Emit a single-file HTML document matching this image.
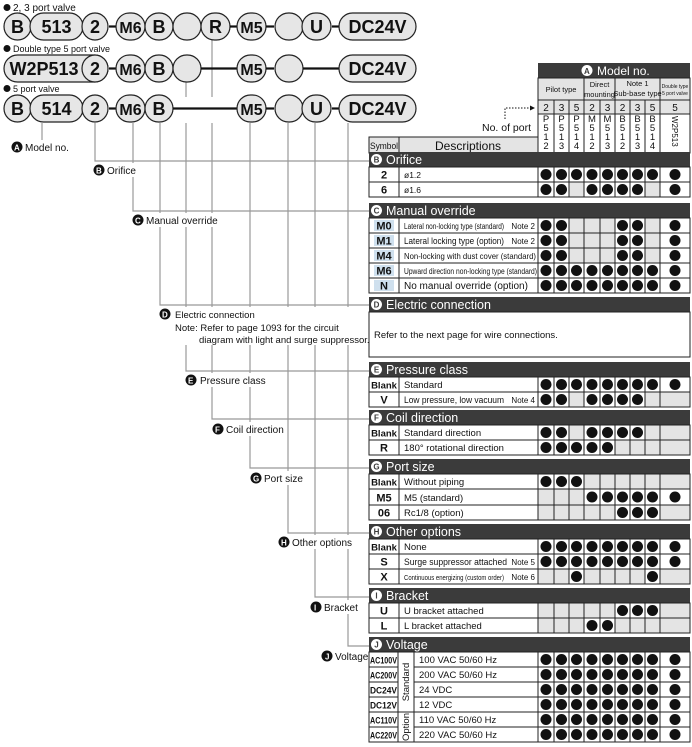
<!DOCTYPE html>
<html><head><meta charset="utf-8"><style>
html,body{margin:0;padding:0;background:#fff;}
svg{display:block;font-family:"Liberation Sans",Arial,sans-serif;}
</style></head><body>
<svg id="s" width="692" height="747" viewBox="0 0 692 747" xmlns="http://www.w3.org/2000/svg">
<g id="conn" stroke="#999" stroke-width="1.2" fill="none">
<path d="M42 123V140"/>
<path d="M95 123V161H369"/>
<path d="M133 123V211H369"/>
<path d="M160 123V305H369"/>
<path d="M186 123V371H369"/>
<path d="M212 123V419H369"/>
<path d="M250 123V468H369"/>
<path d="M288 123V533H369"/>
<path d="M315 123V597H369"/>
<path d="M348 123V646H369"/>
<path d="M212 37V97M186 82V97"/>
</g>
<g font-size="10" fill="#111">
<rect x="10" y="140" width="58" height="14" fill="#fff"/>
<circle cx="17" cy="147" r="5.5" fill="#111"/><text x="14" y="150.5" font-size="8" fill="#fff" font-weight="bold">A</text>
<text x="25" y="151">Model no.</text>
<rect x="92" y="163" width="45" height="14" fill="#fff"/>
<circle cx="99" cy="170" r="5.5" fill="#111"/><text x="96" y="173.5" font-size="8" fill="#fff" font-weight="bold">B</text>
<text x="107" y="174">Orifice</text>
<rect x="131" y="213" width="84" height="14" fill="#fff"/>
<circle cx="138" cy="220" r="5.5" fill="#111"/><text x="135" y="223.5" font-size="8" fill="#fff" font-weight="bold">C</text>
<text x="146" y="224">Manual override</text>
<rect x="158" y="307" width="206" height="38" fill="#fff"/>
<circle cx="165" cy="314" r="5.5" fill="#111"/><text x="162" y="317.5" font-size="8" fill="#fff" font-weight="bold">D</text>
<text x="175" y="318" font-size="9.5">Electric connection</text>
<text x="175" y="331" font-size="9.5">Note: Refer to page 1093 for the circuit</text>
<text x="199" y="343" font-size="9.5">diagram with light and surge suppressor.</text>
<rect x="185" y="373" width="80" height="14" fill="#fff"/>
<circle cx="191" cy="380" r="5.5" fill="#111"/><text x="188" y="383.5" font-size="8" fill="#fff" font-weight="bold">E</text>
<text x="200" y="384">Pressure class</text>
<rect x="211" y="422" width="75" height="14" fill="#fff"/>
<circle cx="218" cy="429" r="5.5" fill="#111"/><text x="215" y="432.5" font-size="8" fill="#fff" font-weight="bold">F</text>
<text x="226" y="433">Coil direction</text>
<rect x="249" y="471" width="52" height="14" fill="#fff"/>
<circle cx="256" cy="478" r="5.5" fill="#111"/><text x="253" y="481.5" font-size="8" fill="#fff" font-weight="bold">G</text>
<text x="264" y="482">Port size</text>
<rect x="277" y="535" width="72" height="14" fill="#fff"/>
<circle cx="284" cy="542" r="5.5" fill="#111"/><text x="281" y="545.5" font-size="8" fill="#fff" font-weight="bold">H</text>
<text x="292" y="546">Other options</text>
<rect x="309" y="600" width="50" height="14" fill="#fff"/>
<circle cx="316" cy="607" r="5.5" fill="#111"/><text x="314" y="610.5" font-size="8" fill="#fff" font-weight="bold">I</text>
<text x="324" y="611">Bracket</text>
<rect x="320" y="649" width="48" height="14" fill="#fff"/>
<circle cx="327" cy="656" r="5.5" fill="#111"/><text x="325" y="659.5" font-size="8" fill="#fff" font-weight="bold">J</text>
<text x="335" y="660">Voltage</text>
</g>
<g id="topg"></g>
<g id="tbl"></g>
<g fill="#111" font-size="10.5">
<text x="482" y="131">No. of port</text>
<path d="M505 119V108H530" stroke="#111" stroke-width="1" stroke-dasharray="1.5 1.5" fill="none"/>
<path d="M530 105.5L535 108L530 110.5Z"/>
</g>
</svg>
<script>
(function(){
var NS="http://www.w3.org/2000/svg";
function el(p,t,a,txt){var e=document.createElementNS(NS,t);for(var k in a)e.setAttribute(k,a[k]);if(txt!==undefined)e.textContent=txt;p.appendChild(e);return e;}
var tp=document.getElementById('topg');
[["2, 3 port valve",11,10],["Double type 5 port valve",52,9],["5 port valve",92,9]].forEach(function(h){
 el(tp,'circle',{cx:7,cy:h[1]-3.5,r:3.5,fill:'#111'});
 el(tp,'text',{x:13,y:h[1],'font-size':h[2],fill:'#111'},h[0]);
});
function box(y,x1,x2,t,fs){
 var h=27;el(tp,'rect',{x:x1,y:y,width:x2-x1,height:h,rx:13.5,ry:13.5,fill:'#e6e6e6',stroke:'#222','stroke-width':1.2});
 if(t)el(tp,'text',{x:(x1+x2)/2,y:y+20,'text-anchor':'middle','font-size':fs||18,'font-weight':'bold',fill:'#111'},t);
}
function dash(y,x1,x2){el(tp,'line',{x1:x1,y1:y+13.5,x2:x2,y2:y+13.5,stroke:'#111','stroke-width':2.2});}
var y=13;
box(y,4,31,'B');box(y,30,83,'513');box(y,82,108,'2');dash(y,109,116);box(y,116,145,'M6',16);box(y,145,173,'B');box(y,173,201,'');box(y,201,230,'R');dash(y,230,237);box(y,237,266,'M5',16);dash(y,266,274);box(y,275,303,'');box(y,302,331,'U');dash(y,332,339);box(y,339,416,'DC24V');
y=55;
box(y,4,108,'');el(tp,'text',{x:44,y:y+20,'text-anchor':'middle','font-size':18,'font-weight':'bold',fill:'#111'},'W2P513');box(y,82,108,'2');dash(y,109,116);box(y,116,145,'M6',16);box(y,145,173,'B');box(y,173,201,'');dash(y,201,237);box(y,237,266,'M5',16);dash(y,266,274);box(y,275,303,'');dash(y,303,339);box(y,339,416,'DC24V');
y=95;
box(y,4,31,'B');box(y,30,83,'514');box(y,82,108,'2');dash(y,109,116);box(y,116,145,'M6',16);box(y,145,173,'B');dash(y,173,237);box(y,237,266,'M5',16);dash(y,266,274);box(y,275,303,'');box(y,302,331,'U');dash(y,332,339);box(y,339,416,'DC24V');

var T=document.getElementById('tbl');
var X=[538,554,569,584,600,615,630,645,660,690];
var L=369,R=690,G='#e4e4e4',D='#3b3b3b';
el(T,'rect',{x:538,y:63,width:152,height:15,fill:D});
el(T,'circle',{cx:587,cy:70.5,r:5.5,fill:'#fff'});
el(T,'text',{x:584,y:74,'font-size':8,fill:D,'font-weight':'bold'},'A');
el(T,'text',{x:597,y:75,'font-size':12,fill:'#fff'},'Model no.');
el(T,'rect',{x:538,y:78,width:152,height:22,fill:G,stroke:'#222','stroke-width':1});
[[538,584],[584,615],[615,660],[660,690]].forEach(function(g){el(T,'line',{x1:g[0],y1:78,x2:g[0],y2:100,stroke:'#222'});});
el(T,'text',{x:561,y:92,'font-size':7.5,'text-anchor':'middle',fill:'#111'},'Pilot type');
el(T,'text',{x:599.5,y:87,'font-size':7.5,'text-anchor':'middle',fill:'#111'},'Direct');
el(T,'text',{x:599.5,y:97,'font-size':7.5,'text-anchor':'middle',fill:'#111'},'mounting');
el(T,'text',{x:637.5,y:86,'font-size':7.5,'text-anchor':'middle',fill:'#111'},'Note 1');
el(T,'text',{x:637.5,y:96,'font-size':7.5,'text-anchor':'middle',fill:'#111'},'Sub-base type');
el(T,'text',{x:675,y:88,'font-size':5,'text-anchor':'middle',fill:'#111'},'Double type');
el(T,'text',{x:675,y:95,'font-size':5,'text-anchor':'middle',fill:'#111'},'5 port valve');
el(T,'rect',{x:538,y:100,width:152,height:14,fill:G,stroke:'#222'});
el(T,'rect',{x:538,y:114,width:152,height:39,fill:'#fff',stroke:'#222'});
var ports=['2','3','5','2','3','2','3','5','5'];
var mods=['P512','P513','P514','M512','M513','B512','B513','B514'];
for(var i=0;i<9;i++){
 if(i>0)el(T,'line',{x1:X[i],y1:100,x2:X[i],y2:153,stroke:'#222'});
 var cx=(X[i]+X[i+1])/2;
 el(T,'text',{x:cx,y:111,'font-size':10,'text-anchor':'middle',fill:'#111'},ports[i]);
 if(i<8){for(var j=0;j<4;j++)el(T,'text',{x:cx,y:122+j*9,'font-size':9.5,'text-anchor':'middle',fill:'#111'},mods[i][j]);}
 else{el(T,'text',{x:0,y:0,'font-size':8,fill:'#111',transform:'translate('+(cx-3)+',116) rotate(90)'},'W2P513');}
}
el(T,'rect',{x:369,y:137,width:30,height:16,fill:G,stroke:'#222'});
el(T,'rect',{x:399,y:137,width:139,height:16,fill:G,stroke:'#222'});
el(T,'text',{x:384,y:149,'font-size':9,'text-anchor':'middle',fill:'#111','textLength':28,'lengthAdjust':'spacingAndGlyphs'},'Symbol');
el(T,'text',{x:468,y:150,'font-size':12,'text-anchor':'middle',fill:'#111'},'Descriptions');

function bar(y,letter,title){
 el(T,'rect',{x:L,y:y,width:R-L,height:15,fill:D});
 el(T,'circle',{cx:376.5,cy:y+7.5,r:5.5,fill:'#fff'});
 el(T,'text',{x:376.5,y:y+10.5,'font-size':8,'text-anchor':'middle',fill:D,'font-weight':'bold'},letter);
 el(T,'text',{x:386,y:y+12,'font-size':12.5,fill:'#fff'},title);
}
function row(y,h,sym,desc,pat,o){
 o=o||{};
 var sx=o.sx||399;
 el(T,'rect',{x:L,y:y,width:sx-L,height:h,fill:'#fff',stroke:'#222'});
 el(T,'rect',{x:o.dx||399,y:y,width:538-(o.dx||399),height:h,fill:'#fff',stroke:'#222'});
 var ss=o.ssz||11;
 var st={x:(L+sx)/2,y:y+h-3.5,'font-size':ss,'font-weight':'bold','text-anchor':'middle',fill:'#111'};
 if(o.hl){el(T,'rect',{x:L+5,y:y+2,width:sx-L-10,height:h-4,fill:'#cfe0ee'});}
 if(o.sw){st.textLength=o.sw;st.lengthAdjust='spacingAndGlyphs';}
 el(T,'text',st,sym);
 var dt={x:(o.dx||399)+5,y:y+h-4,'font-size':o.dfs||9.5,fill:'#111'};
 if(o.dw){dt.textLength=o.dw;dt.lengthAdjust='spacingAndGlyphs';}
 el(T,'text',dt,desc);
 if(o.note)el(T,'text',{x:535,y:y+h-4,'font-size':8,'text-anchor':'end',fill:'#111'},o.note);
 for(var i=0;i<9;i++){
  var on=pat[i]=='1';
  el(T,'rect',{x:X[i],y:y,width:X[i+1]-X[i],height:h,fill:on?'#fff':G,stroke:'#222','stroke-width':1});
  if(on)el(T,'circle',{cx:(X[i]+X[i+1])/2,cy:y+h/2,r:5.5,fill:'#111'});
 }
}
var A='111111111';
bar(152,'B','Orifice');
row(167,15,'2','ø1.2',A,{dfs:8.5});
row(182,15,'6','ø1.6','110111101',{dfs:8.5});
bar(203,'C','Manual override');
row(218,15,'M0','Lateral non-locking type (standard)','110001101',{hl:1,dfs:8,dw:100,note:'Note 2'});
row(233,15,'M1','Lateral locking type (option)','110001101',{hl:1,dfs:9,dw:100,note:'Note 2'});
row(248,15,'M4','Non-locking with dust cover (standard)','110001101',{hl:1,dfs:8.5,dw:132});
row(263,15,'M6','Upward direction non-locking type (standard)',A,{hl:1,dfs:8,dw:133});
row(278,15,'N','No manual override (option)',A,{hl:1,dfs:10});
bar(297,'D','Electric connection');
el(T,'rect',{x:L,y:312,width:R-L,height:45,fill:'#fff',stroke:'#222'});
el(T,'text',{x:374,y:338,'font-size':9.5,fill:'#111'},'Refer to the next page for wire connections.');
bar(362,'E','Pressure class');
row(377,15,'Blank','Standard',A,{ssz:9.5});
row(392,15,'V','Low pressure, low vacuum','110111100',{dfs:9,dw:100,note:'Note 4'});
bar(410,'F','Coil direction');
row(425,15,'Blank','Standard direction','110111100',{ssz:9.5});
row(440,15,'R','180° rotational direction','111110000');
bar(459,'G','Port size');
row(474,15,'Blank','Without piping','111000000',{ssz:9.5});
row(489,16,'M5','M5 (standard)','000111111');
row(505,15,'06','Rc1/8 (option)','000001110');
bar(524,'H','Other options');
row(539,15,'Blank','None',A,{ssz:9.5});
row(554,15,'S','Surge suppressor attached',A,{dfs:9,dw:103,note:'Note 5'});
row(569,15,'X','Continuous energizing (custom order)','001000010',{dfs:7,dw:100,note:'Note 6'});
bar(588,'I','Bracket');
row(603,15,'U','U bracket attached','000001110');
row(618,15,'L','L bracket attached','000110000');
bar(637,'J','Voltage');
var V=[['AC100V','100 VAC 50/60 Hz'],['AC200V','200 VAC 50/60 Hz'],['DC24V','24 VDC'],['DC12V','12 VDC'],['AC110V','110 VAC 50/60 Hz'],['AC220V','220 VAC 50/60 Hz']];
V.forEach(function(v,k){row(652+k*15,15,v[0],v[1],A,{sx:398,dx:414,ssz:9,sw:27});});
el(T,'rect',{x:398,y:652,width:16,height:60,fill:'#fff',stroke:'#222'});
el(T,'rect',{x:398,y:712,width:16,height:30,fill:'#fff',stroke:'#222'});
el(T,'text',{x:0,y:0,'font-size':9.5,'text-anchor':'middle',fill:'#111',transform:'translate(409,682) rotate(-90)'},'Standard');
el(T,'text',{x:0,y:0,'font-size':9.5,'text-anchor':'middle',fill:'#111',transform:'translate(409,727) rotate(-90)'},'Option');
})();
</script>
</body></html>
